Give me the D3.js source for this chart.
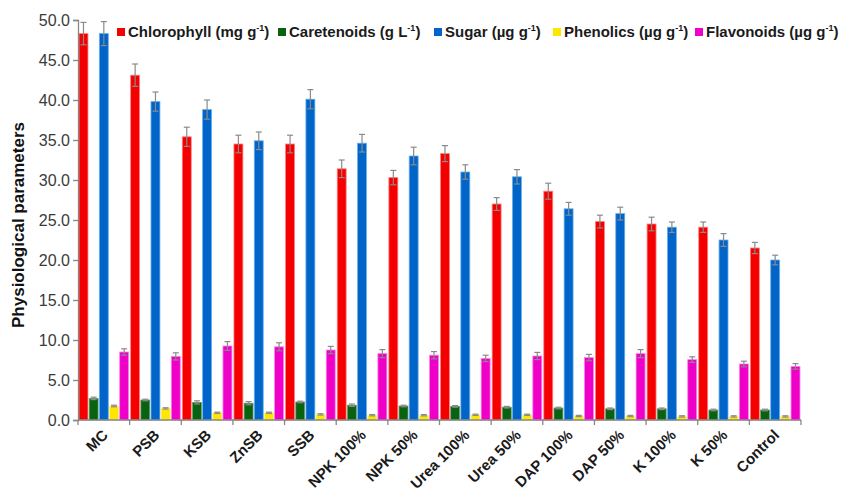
<!DOCTYPE html>
<html>
<head>
<meta charset="utf-8">
<script src="https://cdn.jsdelivr.net/npm/d3@7"></script>
<style>
  body { margin: 0; background: #fff; }
  svg { display: block; font-family: Arial, "Liberation Sans", sans-serif; }
</style>
</head>
<body>
<div id="chart-area"></div>
<script>
// Datos
var categories = ["MC", "PSB", "KSB", "ZnSB", "SSB", "NPK 100%", "NPK 50%", "Urea 100%",
                  "Urea 50%", "DAP 100%", "DAP 50%", "K 100%", "K 50%", "Control"];
var chlorophyll    = [48.3, 43.1, 35.4, 34.5, 34.5, 31.4, 30.3, 33.3, 27.0, 28.6, 24.8, 24.5, 24.1, 21.5];
var chlorophyllErr = [1.4, 1.4, 1.2, 1.1, 1.1, 1.1, 0.9, 1.0, 0.8, 1.0, 0.8, 0.85, 0.65, 0.7];
var carotenoids    = [2.7, 2.5, 2.2, 2.1, 2.25, 1.85, 1.75, 1.7, 1.6, 1.5, 1.4, 1.4, 1.25, 1.25];
var carotenoidsErr = [0.15, 0.1, 0.2, 0.2, 0.1, 0.15, 0.1, 0.1, 0.1, 0.1, 0.1, 0.1, 0.1, 0.1];
var sugar          = [48.3, 39.8, 38.8, 34.9, 40.1, 34.6, 33.0, 31.0, 30.4, 26.4, 25.8, 24.1, 22.5, 20.0];
var sugarErr       = [1.5, 1.2, 1.2, 1.1, 1.2, 1.1, 1.1, 0.9, 0.9, 0.8, 0.8, 0.65, 0.8, 0.6];
var phenolics      = [1.75, 1.45, 0.9, 0.9, 0.7, 0.6, 0.6, 0.65, 0.65, 0.5, 0.5, 0.45, 0.45, 0.45];
var phenolicsErr   = [0.1, 0.08, 0.08, 0.08, 0.08, 0.08, 0.08, 0.08, 0.08, 0.08, 0.08, 0.08, 0.08, 0.08];
var flavonoids     = [8.5, 7.95, 9.25, 9.15, 8.75, 8.3, 8.1, 7.7, 8.0, 7.8, 8.3, 7.55, 7.0, 6.7];
var flavonoidsErr  = [0.4, 0.45, 0.55, 0.5, 0.45, 0.5, 0.45, 0.4, 0.45, 0.4, 0.5, 0.35, 0.35, 0.35];
var yTicks = [0, 5, 10, 15, 20, 25, 30, 35, 40, 45, 50];

var seriesNames = ["Chlorophyll", "Caretenoids", "Sugar", "Phenolics", "Flavonoids"];
var seriesUnits = ["(mg g", "(g L", "(\u00b5g g", "(\u00b5g g", "(\u00b5g g"];
var seriesValues = [chlorophyll, carotenoids, sugar, phenolics, flavonoids];
var seriesErrors = [chlorophyllErr, carotenoidsErr, sugarErr, phenolicsErr, flavonoidsErr];
var colors = ["#f50000", "#09620f", "#0064c8", "#ffe600", "#ee00c8"];
var strokes = ["#ff8080", "#6aa070", "#66b0ee", "#fff080", "#ff80e6"];

var width = 842, height = 492;
var margin = { top: 20, right: 41, bottom: 72, left: 78 };
var plotW = width - margin.left - margin.right,
    plotH = height - margin.top - margin.bottom;

var svg = d3.select("#chart-area").append("svg")
    .attr("width", width)
    .attr("height", height);

var g = svg.append("g")
    .attr("transform", "translate(" + margin.left + "," + margin.top + ")");

// Escalas
var x = d3.scaleBand().domain(categories).range([0, plotW]).padding(0);
var xSub = d3.scaleBand().domain(seriesNames).range([0, x.bandwidth()])
    .paddingInner(0.12).paddingOuter(0.1);
var y = d3.scaleLinear().domain([0, 50]).range([plotH, 0]);

// Barras
seriesNames.forEach(function(name, si) {
    var rows = categories.map(function(c, i) {
        return { cat: c, v: seriesValues[si][i], e: seriesErrors[si][i] };
    });
    var grp = g.append("g").attr("class", "series");
    grp.selectAll("rect").data(rows).enter().append("rect")
        .attr("x", function(d) { return x(d.cat) + xSub(name); })
        .attr("y", function(d) { return y(d.v); })
        .attr("width", xSub.bandwidth())
        .attr("height", function(d) { return y(0) - y(d.v); })
        .attr("fill", colors[si])
        .attr("stroke", strokes[si])
        .attr("stroke-width", 0.8);

    // Barras de error
    var eb = grp.selectAll("g.err").data(rows).enter().append("g")
        .attr("class", "err")
        .attr("stroke", "#8a8a8a")
        .attr("stroke-width", 1.2);
    eb.append("line")
        .attr("x1", function(d) { return x(d.cat) + xSub(name) + xSub.bandwidth() / 2; })
        .attr("x2", function(d) { return x(d.cat) + xSub(name) + xSub.bandwidth() / 2; })
        .attr("y1", function(d) { return y(d.v - d.e); })
        .attr("y2", function(d) { return y(d.v + d.e); });
    [1, -1].forEach(function(s) {
        eb.append("line")
            .attr("x1", function(d) { return x(d.cat) + xSub(name) + xSub.bandwidth() / 2 - 3; })
            .attr("x2", function(d) { return x(d.cat) + xSub(name) + xSub.bandwidth() / 2 + 3; })
            .attr("y1", function(d) { return y(d.v + s * d.e); })
            .attr("y2", function(d) { return y(d.v + s * d.e); });
    });
});

// Eje Y
var yAxis = g.append("g").attr("class", "y-axis")
    .call(d3.axisLeft(y).tickValues(yTicks).tickFormat(d3.format(".1f")).tickSize(5).tickPadding(3));
yAxis.select(".domain").attr("stroke", "#868686").attr("stroke-width", 1.3);
yAxis.selectAll(".tick line").attr("stroke", "#868686").attr("stroke-width", 1.3);
yAxis.selectAll(".tick text")
    .attr("fill", "#3a3a3a")
    .style("font-size", "16px")
    .style("font-family", "Arial, 'Liberation Sans', sans-serif");

// Eje X: marcas en los límites de cada grupo
var xAxisGroup = g.append("g").attr("class", "x-axis")
    .attr("transform", "translate(0," + plotH + ")");
xAxisGroup.append("line")
    .attr("x1", 0).attr("x2", plotW)
    .attr("stroke", "#868686").attr("stroke-width", 1.3);
var bounds = categories.map(function(c) { return x(c); }).concat([plotW]);
xAxisGroup.selectAll("line.tk").data(bounds).enter().append("line")
    .attr("class", "tk")
    .attr("x1", function(d) { return d; }).attr("x2", function(d) { return d; })
    .attr("y1", 0).attr("y2", 5)
    .attr("stroke", "#868686").attr("stroke-width", 1.3);
xAxisGroup.selectAll("text").data(categories).enter().append("text")
    .attr("transform", function(d) {
        return "translate(" + (x(d) + x.bandwidth() / 2 + 5) + ",16) rotate(-45)";
    })
    .attr("text-anchor", "end")
    .attr("fill", "#1a1a1a")
    .style("font-size", "15px")
    .style("font-weight", "bold")
    .text(function(d) { return d; });

// Etiqueta del eje Y
svg.append("text")
    .attr("transform", "translate(24," + (margin.top + plotH / 2 + 5) + ") rotate(-90)")
    .attr("text-anchor", "middle")
    .attr("fill", "#111")
    .style("font-size", "17px")
    .style("font-weight", "bold")
    .text("Physiological parameters");

// Leyenda
var legendX = [117, 278, 434, 553, 695];
var legend = svg.append("g").attr("class", "legend");
seriesNames.forEach(function(name, si) {
    var item = legend.append("g").attr("transform", "translate(" + legendX[si] + ",0)");
    item.append("rect")
        .attr("x", 0).attr("y", 28).attr("width", 8).attr("height", 8)
        .attr("fill", colors[si]);
    var t = item.append("text")
        .attr("x", 11).attr("y", 37)
        .attr("fill", "#1a1a1a")
        .style("font-size", "15px")
        .style("font-weight", "bold");
    t.append("tspan").text(name + " " + seriesUnits[si]);
    t.append("tspan").attr("dy", -6).style("font-size", "9px").text("-1");
    t.append("tspan").attr("dy", 6).text(")");
});
</script>
</body>
</html>
